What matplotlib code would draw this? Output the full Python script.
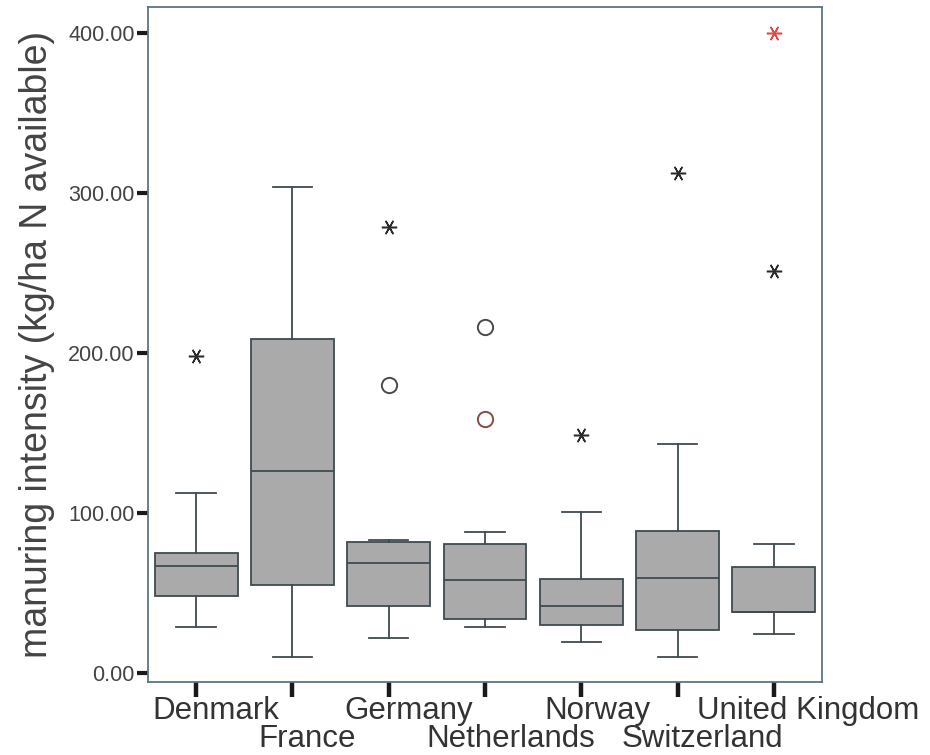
import matplotlib
matplotlib.use("Agg")
import matplotlib.pyplot as plt
from matplotlib.transforms import offset_copy, blended_transform_factory

plt.rcParams["font.family"] = ["Liberation Sans", "DejaVu Sans"]

countries = ["Denmark", "France", "Germany", "Netherlands", "Norway",
             "Switzerland", "United Kingdom"]

# five-number summaries (kg/ha N available)
whisker_low = [29, 10, 22, 29, 19.5, 10, 24.5]
q1 = [48, 55, 42, 34, 30, 27, 38]
median = [67, 126, 69, 58, 42, 59.5, 38]
q3 = [75, 209, 82, 80.5, 59, 89, 66.5]
whisker_high = [112.5, 304, 83, 88, 100.5, 143, 80.5]

# outlying cases: (country index, value)
extreme_cases = [(0, 198), (2, 279), (4, 149), (5, 312.5), (6, 251)]
extreme_flagged = [(6, 400)]
outlier_cases = [(2, 180), (3, 216)]
outlier_flagged = [(3, 159)]

y_ticks = [0, 100, 200, 300, 400]

BOX_FILL = "#aaaaaa"
BOX_EDGE = "#3f4b51"
FRAME = "#5e7480"

fig = plt.figure(figsize=(9.30, 7.55), dpi=100)
ax = fig.add_axes([148 / 930, 73 / 755, 674 / 930, 675 / 755])

stats = []
for i, name in enumerate(countries):
    stats.append(dict(label=name, whislo=whisker_low[i], q1=q1[i],
                      med=median[i], q3=q3[i], whishi=whisker_high[i],
                      fliers=[]))

line = dict(color=BOX_EDGE, linewidth=1.3)
ax.bxp(stats, positions=range(len(countries)), widths=0.86,
       patch_artist=True, showfliers=False,
       boxprops=dict(facecolor=BOX_FILL, edgecolor=BOX_EDGE, linewidth=1.3),
       medianprops=line, whiskerprops=line, capprops=line,
       capwidths=0.41)

# six-armed asterisk with a horizontal bar
star = (6, 2, 90)
for pts, col in [(extreme_cases, "#2b2b2b"), (extreme_flagged, "#e04848")]:
    ax.plot([p[0] for p in pts], [p[1] for p in pts], linestyle="none",
            marker=star, markersize=11, markeredgewidth=1.1,
            color=col, zorder=4)
for pts, col in [(outlier_cases, "#4a4a4a"), (outlier_flagged, "#8a4a44")]:
    ax.plot([p[0] for p in pts], [p[1] for p in pts], linestyle="none",
            marker="o", markersize=11, markerfacecolor="none",
            markeredgewidth=1.4, markeredgecolor=col, zorder=4)

ax.set_xlim(-0.5, 6.5)
ax.set_ylim(-5.6, 416.3)

for s in ax.spines.values():
    s.set_color(FRAME)
    s.set_linewidth(1.3)

ax.set_yticks(y_ticks)
ax.set_yticklabels([f"{v:.2f}" for v in y_ticks])
ax.tick_params(axis="y", length=8, width=3, color="#1a1a1a", pad=1.5,
               labelsize=15.5, labelcolor="#444444")

ax.set_xticks(range(len(countries)))
ax.set_xticklabels([])
ax.tick_params(axis="x", length=11, width=3.2, color="#1a1a1a")

# category names, staggered on two rows
trans = blended_transform_factory(ax.transData, ax.transAxes)
renderer = fig.canvas.get_renderer()
for i, name in enumerate(countries):
    drop = 37 if i % 2 == 0 else 65
    t = ax.text(i, 0, name, transform=trans, ha="center", va="baseline",
                fontsize=22.5, color="#333333")
    w = t.get_window_extent(renderer).width
    t.set_transform(offset_copy(trans, fig, x=0.155 * w, y=-drop,
                                units="dots"))

ax.set_ylabel("manuring intensity (kg/ha N available)", fontsize=27,
              color="#444444")
ax.yaxis.set_label_coords(-0.138, 0.5)

fig.savefig("out.png", dpi=100)
